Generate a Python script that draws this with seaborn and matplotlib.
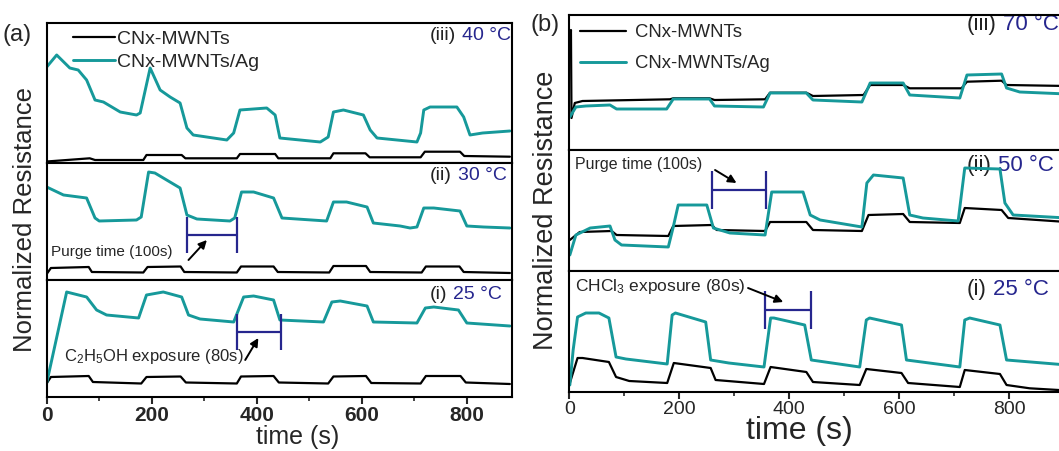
import matplotlib
matplotlib.use("Agg")
import matplotlib.pyplot as plt
import pandas as pd
import seaborn as sns

# ---------------- data ----------------
series_names = ["CNx-MWNTs", "CNx-MWNTs/Ag"]
x_ticks = [0, 200, 400, 600, 800]
roman_labels = ["(i)", "(ii)", "(iii)"]
temps_a = ["25 °C", "30 °C", "40 °C"]
temps_b = ["25 °C", "50 °C", "70 °C"]

# (a) C2H5OH -- 40 °C
a40_t_ag = [0, 19, 44, 60, 76, 92, 108, 140, 171, 178, 197, 216, 235, 254, 267, 279, 343, 356, 368, 419, 435, 444,
            521, 536, 546, 565, 603, 616, 629, 705, 712, 718, 730, 781, 794, 806, 830, 882]
a40_v_ag = [96, 108, 95, 93, 83, 63, 61, 51, 48, 50, 95, 73, 66, 60, 35, 28, 23, 30, 53, 55, 48, 25,
            21, 26, 51, 53, 48, 33, 25, 21, 30, 53, 56, 56, 46, 28, 30, 32]
a40_t_cn = [0, 82, 92, 184, 190, 257, 264, 362, 368, 435, 441, 540, 546, 607, 615, 712, 720, 787, 795, 882]
a40_v_cn = [1.5, 4.7, 3, 3, 8, 8, 4.7, 4.7, 9, 9, 4.7, 4.7, 9.7, 9.7, 5.7, 5.7, 11.3, 11.3, 7, 6.3]

# (a) 30 °C
a30_t_ag = [0, 32, 76, 92, 100, 171, 180, 194, 206, 254, 267, 286, 349, 358, 371, 394, 432, 448, 533, 546, 571,
            610, 622, 673, 692, 705, 718, 737, 787, 800, 832, 882]
a30_v_ag = [93, 85, 82, 62, 59, 60, 63, 108, 107, 92, 65, 61, 59, 62, 88, 88, 82, 62, 59, 78, 78,
            73, 57, 54, 52, 53, 72, 72, 69, 54, 53, 52]
a30_t_cn = [0, 8, 80, 86, 184, 192, 255, 262, 362, 370, 432, 440, 538, 546, 608, 616, 714, 722, 786, 794, 882]
a30_v_cn = [6, 12, 13, 8, 7.5, 13, 13.5, 8, 7.5, 13.5, 13.5, 8, 7.5, 14, 14, 8, 7.5, 13.5, 13.5, 8, 7]

# (a) 25 °C
a25_t_ag = [0, 38, 76, 95, 114, 175, 190, 222, 257, 270, 292, 356, 375, 394, 432, 444, 527, 543, 559, 610, 622,
            705, 721, 737, 784, 800, 882]
a25_v_ag = [14, 105, 100, 87, 82, 79, 102, 105, 100, 82, 78, 75, 100, 101, 97, 77, 75, 95, 96, 91, 75,
            74, 89, 90, 87, 74, 71]
a25_t_cn = [0, 8, 80, 88, 180, 190, 255, 265, 362, 370, 432, 442, 536, 546, 608, 618, 712, 722, 788, 798, 882]
a25_v_cn = [13.7, 20, 21, 15, 13.5, 20, 20.5, 14.5, 13.5, 20.5, 21, 14.5, 13.5, 20.5, 21, 14, 13.5, 21, 21, 14.5, 13]

# (b) CHCl3 -- 70 °C
b70_t_ag = [1, 12, 30, 74, 86, 177, 189, 255, 264, 353, 365, 431, 443, 532, 547, 607, 619, 710, 723, 786, 795,
            819, 905]
b70_v_ag = [33, 43, 44, 45, 41, 41, 51, 51, 44, 43, 57, 57, 50, 48, 67, 67, 55, 52, 75, 76, 62,
            58, 56]
b70_t_cn = [2, 3, 4, 10, 24, 183, 189, 255, 264, 356, 365, 431, 443, 535, 547, 607, 619, 713, 723, 786, 795, 905]
b70_v_cn = [100, 120, 32, 47, 49, 50.7, 51.7, 51.7, 50, 50.7, 57.3, 57.3, 54, 55, 65, 65, 61.7, 61.7, 68.3, 69.3,
            65, 64]

# (b) 50 °C
b50_t_ag = [1, 12, 38, 74, 83, 95, 180, 189, 198, 250, 262, 292, 356, 368, 425, 438, 456, 532, 541, 553, 607,
            619, 643, 707, 719, 783, 792, 807, 905]
b50_v_ag = [16, 36, 43, 45, 31, 26, 24, 44, 66, 66, 43, 38, 36, 79, 79, 56, 51, 44, 88, 96, 93,
            56, 53, 50, 103, 102, 68, 56, 53]
b50_t_cn = [1, 19, 77, 86, 180, 189, 259, 268, 356, 365, 431, 443, 532, 544, 607, 619, 710, 719, 786, 798, 905]
b50_v_cn = [31, 39, 40, 36, 35, 45, 46, 41, 40, 49, 49, 41, 40, 56, 57, 49, 48, 63, 61, 53, 49]

# (b) 25 °C
b25_t_ag = [1, 7, 15, 30, 54, 72, 85, 103, 178, 187, 193, 248, 257, 290, 354, 366, 372, 428, 440, 528, 540, 546,
            604, 613, 710, 719, 728, 783, 795, 905]
b25_v_ag = [7, 42, 75, 79, 79, 74, 35, 33, 28, 77, 79, 70, 32, 29, 25, 74, 74, 67, 32, 25, 72, 74,
            67, 32, 25, 72, 74, 67, 32, 27]
b25_t_cn = [1, 15, 24, 72, 85, 109, 178, 190, 257, 266, 354, 366, 431, 443, 528, 540, 604, 616, 710, 719, 783, 795,
            837, 905]
b25_v_cn = [9, 34, 34, 30, 15, 11, 9, 29, 24, 12, 8, 25, 20, 10, 7, 23, 19, 9, 5, 22, 18, 7, 3.7, 1.5]

# annotation bars (start, end, level)
bar_a_purge = (267, 362, 45)
bar_a_expo = (363, 447, 65)
bar_b_purge = (259, 357, 81)
bar_b_expo = (356, 440, 82)

# ---------------- style ----------------
sns.set_theme(style="ticks")
plt.rcParams["font.family"] = ["Liberation Sans", "DejaVu Sans"]
plt.rcParams["mathtext.fontset"] = "custom"
plt.rcParams["mathtext.rm"] = "Liberation Sans"
plt.rcParams["mathtext.it"] = "Liberation Sans:italic"
plt.rcParams["mathtext.bf"] = "Liberation Sans:bold"

TEAL = "#16999a"
NAVY = "#26268e"

W, H = 1059, 451
fig = plt.figure(figsize=(W / 100, H / 100), dpi=100)


def ax_rect(x0, x1, y_top, y_bot):
    return [x0 / W, 1 - y_bot / H, (x1 - x0) / W, (y_bot - y_top) / H]


def draw(ax, t_cn, v_cn, t_ag, v_ag, ymax, xmax):
    df = pd.concat([
        pd.DataFrame({"t": t_cn, "v": v_cn, "s": series_names[0]}),
        pd.DataFrame({"t": t_ag, "v": v_ag, "s": series_names[1]}),
    ])
    sns.lineplot(data=df[df.s == series_names[0]], x="t", y="v", color="black", lw=1.6,
                 estimator=None, sort=False, ax=ax, legend=False)
    sns.lineplot(data=df[df.s == series_names[1]], x="t", y="v", color=TEAL, lw=2.1,
                 estimator=None, sort=False, ax=ax, legend=False)
    ax.set_xlim(0, xmax)
    ax.set_ylim(0, ymax)
    ax.set_xlabel("")
    ax.set_ylabel("")
    ax.set_yticks([])
    for sp in ax.spines.values():
        sp.set_linewidth(1.5)
        sp.set_color("black")
        sp.set_visible(True)


def temp_label(ax, x, y, roman, temp, size):
    t1 = ax.text(x, y, roman, transform=ax.transAxes, ha="left", va="center", fontsize=size,
                 color="#222222", zorder=1)
    ax.annotate(temp, xy=(1, 0), xycoords=t1, xytext=(size * 0.3, 0), textcoords="offset points",
                ha="left", va="bottom", fontsize=size, color=NAVY, zorder=1)


def cap_bar(ax, bar, cap):
    s, e, lvl = bar
    ax.errorbar([(s + e) / 2], [lvl], xerr=[(e - s) / 2], fmt="none", ecolor=NAVY, elinewidth=1.6,
                capsize=cap, capthick=1.6, zorder=5)


def arrow(ax, tail, head):
    ax.annotate("", xy=head, xytext=tail,
                arrowprops=dict(arrowstyle="-|>", color="black", lw=1.4, mutation_scale=12,
                                shrinkA=0, shrinkB=0), zorder=6)


# ---------------- panel (a) ----------------
XA0, XA1 = 46.7, 512
XMAX_A = 886
a_top = fig.add_axes(ax_rect(XA0, XA1, 23, 163))
a_mid = fig.add_axes(ax_rect(XA0, XA1, 163, 280))
a_bot = fig.add_axes(ax_rect(XA0, XA1, 280, 397))
draw(a_top, a40_t_cn, a40_v_cn, a40_t_ag, a40_v_ag, 140, XMAX_A)
draw(a_mid, a30_t_cn, a30_v_cn, a30_t_ag, a30_v_ag, 117, XMAX_A)
draw(a_bot, a25_t_cn, a25_v_cn, a25_t_ag, a25_v_ag, 117, XMAX_A)

for ax in (a_top, a_mid):
    ax.tick_params(bottom=False, labelbottom=False, left=False)
a_bot.set_xticks(x_ticks)
a_bot.set_xticks(range(100, 900, 200), minor=True)
a_bot.tick_params(axis="x", which="major", direction="out", length=5, width=1.5, labelsize=15, pad=1.5)
a_bot.tick_params(axis="x", which="minor", direction="out", length=3, width=1.2)
a_bot.tick_params(left=False)
for lab in a_bot.get_xticklabels():
    lab.set_fontweight("bold")

temp_label(a_top, 0.824, 0.914, roman_labels[2], temps_a[2], 14)
temp_label(a_mid, 0.824, 0.897, roman_labels[1], temps_a[1], 14)
temp_label(a_bot, 0.824, 0.872, roman_labels[0], temps_a[0], 14)

handles_a = [plt.Line2D([], [], color="black", lw=1.6), plt.Line2D([], [], color=TEAL, lw=2.1)]
a_top.legend(handles_a, series_names, loc="upper left", bbox_to_anchor=(0.056, 0.95), frameon=False,
             fontsize=14, handlelength=2.15, handletextpad=0.15, labelspacing=0.3, borderpad=0,
             borderaxespad=0)

cap_bar(a_mid, bar_a_purge, 13)
a_mid.text(8, 28, "Purge time (100s)", fontsize=11, ha="left", va="center")
arrow(a_mid, (270, 20), (305, 40))

cap_bar(a_bot, bar_a_expo, 13)
a_bot.text(32, 40, "C$_2$H$_5$OH exposure (80s)", fontsize=12, ha="left", va="center")
arrow(a_bot, (378, 37), (403, 59))

# ---------------- panel (b) ----------------
XB0 = 569.3
XMAX_B = 910
XB1 = XB0 + XMAX_B * 0.55
b_top = fig.add_axes(ax_rect(XB0, XB1, 15, 150))
b_mid = fig.add_axes(ax_rect(XB0, XB1, 150, 271))
b_bot = fig.add_axes(ax_rect(XB0, XB1, 271, 392))
draw(b_top, b70_t_cn, b70_v_cn, b70_t_ag, b70_v_ag, 135, XMAX_B)
draw(b_mid, b50_t_cn, b50_v_cn, b50_t_ag, b50_v_ag, 121, XMAX_B)
draw(b_bot, b25_t_cn, b25_v_cn, b25_t_ag, b25_v_ag, 121, XMAX_B)

for ax in (b_top, b_mid):
    ax.tick_params(bottom=False, labelbottom=False, left=False)
b_bot.set_xticks(x_ticks)
b_bot.set_xticks(range(100, 1000, 200), minor=True)
b_bot.tick_params(axis="x", which="major", direction="out", length=5, width=1.5, labelsize=14, pad=1.5)
b_bot.tick_params(axis="x", which="minor", direction="out", length=3, width=1.2)
b_bot.tick_params(left=False)

temp_label(b_top, 0.7945, 0.926, roman_labels[2], temps_b[2], 16)
temp_label(b_mid, 0.7945, 0.876, roman_labels[1], temps_b[1], 16)
temp_label(b_bot, 0.7945, 0.843, roman_labels[0], temps_b[0], 16)

handles_b = [plt.Line2D([], [], color="black", lw=1.6), plt.Line2D([], [], color=TEAL, lw=2.1)]
b_top.legend(handles_b, series_names, loc="upper left", bbox_to_anchor=(0.021, 0.93), frameon=False,
             fontsize=13.3, handlelength=2.5, handletextpad=0.5, labelspacing=0.75, borderpad=0,
             borderaxespad=0)

cap_bar(b_mid, bar_b_purge, 14)
b_mid.text(10, 106, "Purge time (100s)", fontsize=11.5, ha="left", va="center")
arrow(b_mid, (265, 101), (304, 88))

cap_bar(b_bot, bar_b_expo, 14)
b_bot.text(10, 105, "CHCl$_3$ exposure (80s)", fontsize=12.5, ha="left", va="center")
arrow(b_bot, (325, 104), (389, 90))

# ---------------- figure texts ----------------
fig.text(3 / W, 1 - 35 / H, "(a)", fontsize=17, ha="left", va="center")
fig.text(530 / W, 1 - 25 / H, "(b)", fontsize=17, ha="left", va="center")
fig.text(298 / W, 1 - 437 / H, "time (s)", fontsize=18, ha="center", va="center")
fig.text(799 / W, 1 - 431 / H, "time (s)", fontsize=23, ha="center", va="center")
fig.text(25 / W, 1 - 220 / H, "Normalized Resistance", fontsize=18.5, rotation=90, ha="center", va="center")
fig.text(546 / W, 1 - 210 / H, "Normalized Resistance", fontsize=19.5, rotation=90, ha="center", va="center")

fig.savefig("out.png", dpi=100)
